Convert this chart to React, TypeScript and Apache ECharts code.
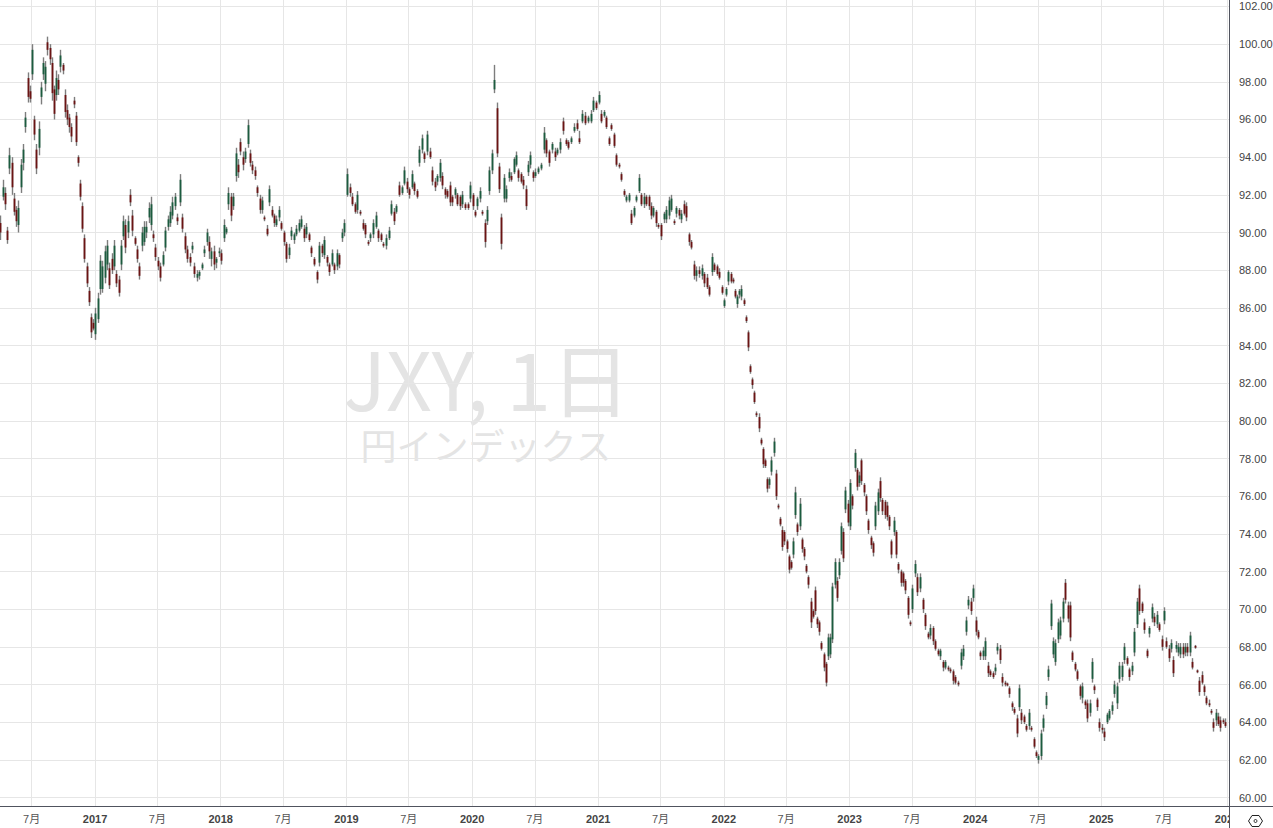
import React, { useEffect, useRef } from "react";
import * as echarts from "echarts";

// Rows are [open, close, low, high], one row per sampled bar, grouped by half-year.
const s2016a = [[90.5,90,89.6,90.9],[91.9,92.4,91.7,92.8],[92.1,91.5,91.2,92.4],[90.1,89.6,89.4,90.3],[93.4,94.1,93.1,94.5],[93.7,92.4,92,94],[91.8,91.1,90.9,92.1],[91.2,90.6,90.3,91.4],[90.4,91.3,90,91.7],[92.4,93.6,92.1,93.9],[93.7,94.4,93.3,94.7],[95.6,96.1,95.3,96.4],[98.2,97.2,96.9,98.5],[97.5,97.1,96.9,97.8]];
const s2016b = [[98.4,99.7,98.1,100],[96,95.2,94.9,96.2],[94.4,93.4,93.1,94.7],[94.5,95.5,94.1,95.9],[97.2,97.7,96.8,98],[98.4,99,98.1,99.3],[97.9,98.8,97.5,99.1],[100.1,99.7,99.4,100.4],[99.8,99.2,98.9,100],[99,97.4,97,99.3],[97.6,96.3,96,97.8],[97.3,98.2,97,98.6],[98.1,97.6,97.3,98.4],[98.8,99.4,98.5,99.7],[98.9,98.6,98.4,99],[97.3,96.4,96.1,97.6],[96.5,96,95.7,96.8],[96.1,95.6,95.3,96.3],[95.6,95.1,94.8,95.8],[97,96.8,96.6,97.2],[96.2,94.8,94.6,96.4],[94,93.7,93.5,94.1],[92.6,91.9,91.7,92.8],[91.4,90.2,90,91.6],[89.7,88.6,88.4,89.9],[88.2,87.3,87.1,88.4],[86.9,86.3,86.1,87.1],[85.5,84.7,84.4,85.7],[85.2,84.9,84.8,85.4]];
const s2017a = [[84.6,85.7,84.3,86],[85.4,86.5,85.2,86.8],[87,88.5,86.7,88.8],[87,88.2,86.8,88.5],[87.6,89,87.3,89.3],[88.3,89.3,88,89.6],[88.1,87.2,87,88.4],[88.6,88,87.8,88.9],[88.2,89.3,88,89.6],[87.8,87.3,87.1,88],[87.5,86.8,86.6,87.7],[88.3,89.3,88,89.6],[89.8,90.6,89.6,90.9],[90.4,89.2,88.9,90.7],[90,90.6,89.7,90.9],[92,91.6,91.4,92.3],[90.9,90.1,89.8,91.2],[89.7,89.4,89.3,89.8],[89.1,88.6,88.4,89.3],[88.2,87.7,87.5,88.4],[89.3,90,89,90.3],[89.5,90.3,89.3,90.6],[90,90.3,89.7,90.6],[90.8,91.3,90.5,91.6],[90.4,91.5,90.1,91.9],[89.9,89.7,89.5,90.1],[89.2,88.7,88.5,89.4]];
const s2017b = [[88.5,88.2,88,88.7],[88.2,87.6,87.4,88.4],[88.3,88.8,88.2,89],[89.2,90.1,89,90.3],[90.3,90.7,90.1,90.9],[90.5,91.1,90.3,91.4],[90.9,91.6,90.7,91.9],[91.4,91.9,91.2,92.1],[90.8,90.6,90.4,91],[91.6,92.8,91.4,93.1],[90.8,90.2,90,91],[89.8,89.1,88.9,90],[89.1,88.6,88.4,89.3],[88.7,88.4,88.2,88.9],[89.1,89.3,88.9,89.5],[88.2,87.8,87.6,88.4],[87.6,87.8,87.4,88],[87.7,87.9,87.5,88],[88.1,88.3,88,88.4],[88.9,89.1,88.7,89.3],[89.5,90,89.3,90.2],[89.5,89,88.6,89.8],[88.6,89,88.2,89.2],[89,88.3,88,89.3],[88.4,88.6,88.1,88.7],[88.9,89,88.7,89.2]];
const s2018a = [[88.9,88.5,88.3,89.1],[89.7,90.4,89.5,90.7],[90,90.2,89.9,90.3],[91.5,92.1,91.2,92.4],[91.9,90.9,90.6,92.1],[91.4,91.9,91.2,92.1],[93,94.2,92.7,94.5],[93.6,93.2,92.9,93.9],[94.8,94.3,94.1,95],[94,93.6,93.3,94.3],[93.9,94.3,93.7,94.5],[94.7,95.7,94.5,96],[94.2,93.7,93.5,94.4],[93.6,93.3,93.1,93.8],[93.3,93,92.8,93.5],[92.4,92.1,91.9,92.5],[91.8,91.2,91,92],[91.2,91.7,91,91.9],[90.8,90.7,90.6,90.9],[90.2,89.9,89.8,90.4],[91.6,92.3,91.4,92.5],[91.2,90.9,90.8,91.4],[90.9,90.5,90.3,91],[90.4,90.7,90.3,90.9],[90.8,91.2,90.6,91.4],[90.5,90.2,90.1,90.6]];
const s2018b = [[90,89.5,89.3,90.1],[89.4,88.6,88.4,89.5],[88.8,89.2,88.6,89.4],[89.8,90.1,89.6,90.3],[89.6,89.9,89.4,90],[89.9,90.2,89.8,90.4],[90.1,90.5,90,90.7],[90.3,90.7,90.2,90.9],[90.2,89.7,89.5,90.4],[89.9,90.3,89.7,90.5],[89.9,89.6,89.5,90],[89.2,88.9,88.7,89.3],[88.6,88.3,88.2,88.7],[87.9,87.5,87.3,88],[88.4,89.3,88.2,89.5],[89.3,88.9,88.7,89.4],[88.8,89.6,88.6,89.8],[88.7,88.4,88.2,88.8],[88.3,87.9,87.7,88.4],[88.3,88.9,88.2,89.1],[88.3,88,87.8,88.4],[88.2,88.9,88,89.1],[88.8,88.3,88.1,88.9],[89.7,90,89.5,90.2],[90,90.5,89.8,90.7]];
const s2019a = [[92,93.1,91.9,93.4],[92.4,92.1,91.9,92.6],[91.9,91.5,91.4,92.1],[91.5,91.1,91,91.6],[91.2,92,91,92.2],[91.1,91,90.9,91.2],[90.5,90.2,90.1,90.7],[90.4,89.9,89.7,90.5],[89.5,89.4,89.3,89.6],[89.7,89.9,89.5,90],[89.9,90.5,89.7,90.7],[90.3,90.9,90.2,91.1],[90.1,89.7,89.5,90.2],[89.9,89.6,89.5,90],[89.4,89.3,89.2,89.5],[89.3,89.7,89.1,89.9],[89.7,90.1,89.6,90.3],[91,91.5,90.9,91.7],[91.1,90.6,90.4,91.3],[91.1,91.4,91,91.5],[92.5,92,91.9,92.7],[92.1,92.4,92,92.5],[92.6,93.3,92.5,93.5],[92.7,92.3,92.1,92.9]];
const s2019b = [[92.3,92,91.8,92.4],[92.4,93.1,92.3,93.3],[92.6,92.2,92,92.7],[92.2,91.9,91.8,92.3],[93.7,94.4,93.5,94.6],[94.4,95,94.2,95.2],[94.2,93.9,93.7,94.3],[94.3,95.2,94.1,95.4],[94.3,94,93.9,94.5],[93.3,92.7,92.5,93.5],[92.7,92.4,92.2,92.9],[92.7,93,92.5,93.1],[92.9,93.7,92.7,93.9],[93,92.5,92.3,93.2],[92.3,92,91.8,92.4],[92.2,91.9,91.8,92.3],[92.5,91.6,91.4,92.7],[91.9,91.6,91.4,92],[92,92.3,91.8,92.4],[92,91.5,91.4,92.1],[91.9,91.4,91.2,92],[91.5,92,91.3,92.2],[91.5,91.3,91.2,91.6],[91.5,91.3,91.2,91.6],[91.8,92.5,91.6,92.7]];
const s2020a = [[92,91.4,91.2,92.1],[91.1,90.9,90.8,91.2],[91.4,91.8,91.2,91.9],[91.8,92.2,91.6,92.4],[91.1,91,90.9,91.2],[90.5,89.5,89.2,90.7],[90.6,91.2,90.4,91.4],[92.2,93.3,92,93.5],[93.3,94.2,93.1,94.4],[97.6,98.1,97.4,98.9],[96.6,94.2,94,96.9],[93.5,92.3,92.1,93.7],[90.8,89.4,89.1,91],[91.8,92.9,91.6,93.1],[91.8,92.3,91.6,92.5],[92.9,93.2,92.7,93.4],[93,92.8,92.7,93.2],[93.2,93.9,93.1,94],[93.6,94.1,93.5,94.3],[93.3,92.9,92.7,93.4],[93.1,92.7,92.6,93.2],[92.8,92.5,92.3,93],[92.3,91.4,91.2,92.5],[93.2,93.6,93,93.8],[93.6,94.1,93.4,94.3],[93.2,92.9,92.7,93.3]];
const s2020b = [[93,93.2,92.9,93.4],[93.2,93.4,93.1,93.5],[93.4,93.6,93.3,93.7],[94.4,95.3,94.2,95.6],[94.9,94.2,94,95],[94.3,93.7,93.5,94.4],[94.4,94.7,94.2,94.8],[94.3,94,93.8,94.5],[94.2,94.4,94.1,94.5],[94.4,94.8,94.2,95],[95.9,95.4,95.2,96.1],[94.9,94.7,94.6,95],[94.8,94.5,94.4,94.9],[94.8,95,94.7,95.1],[95.4,95.6,95.3,95.8],[95.8,95.5,95.4,96],[95,94.8,94.7,95.4],[95.9,96.3,95.8,96.5],[96.2,95.8,95.7,96.4],[95.9,96.1,95.8,96.2],[95.9,96.3,95.8,96.5],[96.5,97,96.4,97.2],[96.9,96.6,96.5,97]];
const s2021a = [[96.9,97.3,96.8,97.5],[96.3,95.9,95.8,96.5],[96.2,96.4,96.1,96.5],[96.1,95.6,95.5,96.2],[95,94.7,94.6,95.1],[95.7,95.5,95.4,95.8],[95.2,94.6,94.5,95.3],[94.1,93.6,93.5,94.2],[93.6,93.5,93.4,93.7],[93.1,92.8,92.7,93.2],[92.2,92,91.9,92.3],[91.7,91.9,91.6,92],[91.7,92,91.6,92.1],[91,90.5,90.4,91.2],[90.9,91.3,90.8,91.4],[91.7,91.9,91.6,92],[92.2,92.9,92.1,93.1],[92,91.5,91.4,92.1],[91.5,91.9,91.3,92.1],[91.9,91.5,91.4,92],[91.9,91.4,91.2,92],[91.4,90.9,90.7,91.6],[90.9,91.3,90.8,91.4],[91.1,90.5,90.3,91.2],[90.4,90.3,90.2,90.5]];
const s2021b = [[90.4,89.8,89.6,90.5],[90.7,91,90.5,91.1],[90.7,91.2,90.5,91.4],[90.9,91.7,90.7,91.9],[91.2,91.8,91.1,92],[90.6,90.5,90.4,90.7],[91,91.3,90.8,91.4],[91.2,90.9,90.7,91.3],[90.7,91,90.5,91.2],[91.5,91,90.9,91.7],[91.4,90.8,90.6,91.6],[89.9,89.5,89.3,90],[89.5,89.2,89.1,89.6],[88.3,87.7,87.5,88.5],[87.7,88,87.4,88.2],[88,87.8,87.6,88.2],[87.7,88.1,87.5,88.3],[87.8,87.3,87.1,87.9],[87.6,87.1,87,87.8],[87.1,86.7,86.6,87.2],[87.9,88.7,87.7,88.9],[88.3,88,87.9,88.4],[88.2,87.8,87.7,88.3],[87.9,87.6,87.5,88.1],[87.1,86.8,86.7,87.2]];
const s2022a = [[86.1,86.4,86,86.5],[86.7,87,86.6,87.1],[87.4,87.9,87.2,88],[87.8,87.4,87.3,87.9],[87.5,87.4,87.3,87.6],[86.9,86.6,86.5,87],[86.2,86.6,86,86.7],[86.7,86.9,86.5,87],[86.6,87,86.4,87.2],[86.4,86.2,86.1,86.5],[85.5,85.3,85.2,85.6],[84.7,83.9,83.7,84.8],[82.9,82.6,82.5,83],[82.2,81.9,81.7,82.3],[81.5,81,80.9,81.6],[80.4,80.3,80.2,80.5],[80.2,79.6,79.4,80.4],[79,78.8,78.7,79.1],[78.5,77.7,77.5,78.6],[77.9,77.6,77.5,78],[76.9,76.4,76.2,77],[76.6,76.9,76.4,77],[77.3,77.9,77.1,78.1],[78.3,78.9,78.1,79.1],[77.2,76,75.8,77.4],[75.5,75.4,75.3,75.6],[74.8,74.5,74.4,74.9],[74.2,73.3,73.1,74.4],[74.1,73.6,73.4,74.2]];
const s2022b = [[73.6,73.2,73,73.7],[72.8,72.1,71.9,72.9],[72.5,72.2,72.1,72.6],[72.9,73.6,72.7,73.8],[75,76.2,74.8,76.5],[74.5,74.1,73.9,74.6],[74.4,75.6,74.2,75.9],[73.7,73.2,73,73.8],[73.2,72.8,72.6,73.3],[72.3,72,71.9,72.4],[71.7,71.3,71.1,71.8],[70.4,69.3,69,70.6],[69.9,69.6,69.5,70],[71,69.9,69.7,71.2],[69.5,69.2,69,69.6],[69.3,68.8,68.6,69.4],[68.2,67.9,67.8,68.3],[67.6,66.9,66.7,67.7],[67.1,66.1,65.9,67.2],[67.5,68.5,67.3,68.7],[67.6,68.5,67.4,68.7],[68.4,71.2,68.2,71.4],[71.3,72.5,71.1,72.7],[71.5,70.6,70.4,71.7],[71.8,72.5,71.6,72.7],[73.1,74.4,72.9,74.6],[74.1,72.7,72.5,74.3],[75.3,76.3,75.1,76.5],[75.6,74.6,74.4,75.8]];
const s2023a = [[74.4,76.7,74.2,76.9],[76,75.5,75.3,76.1],[77.5,78.3,77.3,78.5],[77.4,76.5,76.3,77.5],[76.7,77.1,76.5,77.3],[77.9,76.8,76.6,78],[76.6,76.2,76,76.7],[76,75.2,75,76.1],[74.7,74.2,74,74.8],[73.8,73.4,73.2,73.9],[73.5,73,72.8,73.6],[74.4,75.5,74.2,75.7],[75.2,76.2,75,76.4],[76.8,75.9,75.7,77],[75.8,75.2,75,75.9],[75.7,75,74.8,75.8],[75.5,74.9,74.7,75.7],[74.9,74.4,74.2,75],[73.6,72.9,72.7,73.7],[74.1,74.7,73.9,74.9],[74.1,72.9,72.7,74.2],[72.4,72.1,71.9,72.5],[72,71.4,71.2,72.1],[71.9,71.4,71.2,72],[71.5,71,70.8,71.6],[70.6,69.7,69.5,70.7],[69.3,69.2,69.1,69.4]];
const s2023b = [[70,71.1,69.8,71.3],[71.9,72.4,71.7,72.6],[71.7,70.9,70.7,71.9],[71.1,71.7,70.9,71.9],[70.5,70,69.8,70.6],[69.7,69.1,68.9,69.8],[68.7,68.5,68.4,68.8],[68.6,69,68.4,69.2],[69,68.3,68.1,69.1],[68.3,67.9,67.8,68.4],[67.8,67.6,67.5,67.9],[67.5,67.8,67.3,67.9],[67.2,66.9,66.7,67.3],[66.9,67.2,66.8,67.3],[66.9,66.8,66.7,67],[66.8,66.7,66.6,66.9],[66.7,66.2,66,66.8],[66.4,66.1,66,66.5],[66.1,66,65.9,66.2],[67,67.7,66.8,67.9],[67.5,67.9,67.3,68.1],[68.8,69.4,68.6,69.6],[70.2,70.5,70,70.7],[70.4,69.9,69.7,70.6],[70.6,71.1,70.4,71.3]];
const s2024a = [[69.4,68.8,68.6,69.6],[68.8,68.5,68.4,68.9],[67.7,67.5,67.3,67.8],[67.5,67.8,67.3,68],[67.5,68.3,67.3,68.5],[67,66.6,66.4,67.2],[66.7,66.5,66.4,66.8],[66.6,66.4,66.3,66.7],[66.7,66.9,66.5,67.1],[67.8,68,67.6,68.2],[67.9,67.3,67.1,68.1],[66.4,66.1,65.9,66.6],[66.1,66,65.9,66.2],[66.05,65.95,65.9,66.1],[65.8,65.5,65.3,65.9],[65,64.8,64.6,65.1],[64.7,64.5,64.4,64.8],[64.2,63.4,63.2,64.4],[64.8,65.8,64.6,66],[64.5,64.1,63.9,64.7],[64.3,64,63.9,64.4],[63.8,63.6,63.5,63.9],[63.8,64.5,63.6,64.7],[63.7,63.6,63.5,63.8],[63.1,62.7,62.6,63.2],[62.4,62.2,62.1,62.5]];
const s2024b = [[62,62.2,61.8,62.3],[62.2,63.4,62,63.6],[63.7,64.2,63.5,64.4],[64.9,65.4,64.7,65.6],[66.4,66.8,66.2,67],[69.1,70.3,68.9,70.5],[67.6,68.3,67.4,68.5],[67.2,68.2,67,68.4],[68.4,69.3,68.2,69.5],[68.6,69.4,68.4,69.6],[69.5,70.4,69.3,70.6],[71.4,70.5,70.3,71.6],[70.2,69.5,69.3,70.4],[70.2,68.5,68.3,70.4],[67.7,67.3,67.2,67.8],[67.1,66.8,66.7,67.2],[66.7,66.3,66.2,66.8],[65.9,65.4,65.2,66],[65.3,65.9,65,66.1],[65.1,64.9,64.7,65.2],[65,64.2,64,65.2],[64.5,65,64.3,65.2],[66.3,67.2,66.1,67.4],[65.9,65.7,65.5,66],[65.2,64.8,64.6,65.3],[64,63.7,63.5,64.2]];
const s2025a = [[63.7,63.6,63.4,63.9],[63.5,63.2,63,63.7],[64,64.4,63.9,64.5],[64.2,64.6,64.1,64.7],[64.6,64.9,64.4,65.1],[65.5,66,65.3,66.2],[65,65.9,64.7,66.1],[66.3,67,66.1,67.2],[66.4,67,66.2,67.2],[67.3,68,67.1,68.2],[67.4,67.1,67,67.5],[66.8,66.4,66.2,66.9],[66.7,67,66.5,67.2],[67.7,68.8,67.5,69],[69.2,70.4,69,70.6],[71.1,69.9,69.7,71.3],[70.3,69.9,69.8,70.4],[69.3,68.9,68.7,69.5],[67.8,67.5,67.4,67.9],[68.7,69,68.5,69.1],[69.5,70.1,69.3,70.3],[69.6,69.3,69.1,69.8],[69.2,69.7,69,69.9],[69.2,68.9,68.8,69.3],[68.4,68,67.8,68.6]];
const s2025b = [[69.4,69.9,69.2,70.1],[68.3,68,67.9,68.5],[67.9,67.4,67.2,68.1],[67.9,68.2,67.7,68.4],[67.3,66.6,66.4,67.5],[67.9,68.1,67.7,68.3],[67.7,68,67.5,68.2],[67.6,68,67.4,68.2],[68,67.6,67.4,68.2],[67.7,68,67.5,68.2],[68,67.7,67.5,68.2],[67.7,68.6,67.5,68.8],[67.2,66.9,66.8,67.4],[68.05,67.95,67.9,68.1],[66.75,66.65,66.6,66.8],[66.2,65.6,65.4,66.4],[66.5,66.1,66,66.7],[65.9,65.6,65.4,66],[65.3,65,64.9,65.4],[65,64.9,64.8,65.2],[64.6,64.5,64.4,64.7],[64,63.7,63.5,64.2],[64.1,64.5,63.8,64.7],[64.3,63.9,63.8,64.5],[64.1,63.7,63.5,64.3],[64.1,64,63.9,64.2],[64,63.8,63.7,64.2]];

const periods: [string, string, number[][]][] = [
  ["2016-03-31", "2016-07-01", s2016a], ["2016-07-01", "2017-01-01", s2016b],
  ["2017-01-01", "2017-07-01", s2017a], ["2017-07-01", "2018-01-01", s2017b],
  ["2018-01-01", "2018-07-01", s2018a], ["2018-07-01", "2019-01-01", s2018b],
  ["2019-01-01", "2019-07-01", s2019a], ["2019-07-01", "2020-01-01", s2019b],
  ["2020-01-01", "2020-07-01", s2020a], ["2020-07-01", "2021-01-01", s2020b],
  ["2021-01-01", "2021-07-01", s2021a], ["2021-07-01", "2022-01-01", s2021b],
  ["2022-01-01", "2022-07-01", s2022a], ["2022-07-01", "2023-01-01", s2022b],
  ["2023-01-01", "2023-07-01", s2023a], ["2023-07-01", "2024-01-01", s2023b],
  ["2024-01-01", "2024-07-01", s2024a], ["2024-07-01", "2025-01-01", s2024b],
  ["2025-01-01", "2025-07-01", s2025a], ["2025-07-01", "2026-01-01", s2025b],
];

const tickDates = ["2016-07-01", "2017-01-01", "2017-07-01", "2018-01-01", "2018-07-01", "2019-01-01", "2019-07-01", "2020-01-01", "2020-07-01", "2021-01-01", "2021-07-01", "2022-01-01", "2022-07-01", "2023-01-01", "2023-07-01", "2024-01-01", "2024-07-01", "2025-01-01", "2025-07-01", "2026-01-01"];
const priceTicks = [60, 62, 64, 66, 68, 70, 72, 74, 76, 78, 80, 82, 84, 86, 88, 90, 92, 94, 96, 98, 100, 102];
const watermarkTitle = "JXY, 1日";
const watermarkSubtitle = "円インデックス";

const utc = (d: string) => Date.parse(d + "T00:00:00Z");

const bars = periods.flatMap(([from, to, rows]) => {
  const a = utc(from);
  const b = utc(to);
  return rows.map((r, i) => ({ t: a + ((i + 0.5) / rows.length) * (b - a), o: r[0], c: r[1], l: r[2], h: r[3] }));
});

const AXIS = "#50535e";
const GRID = "#e6e6e6";
const WATER = "#e4e4e4";

export default function App() {
  const ref = useRef<HTMLDivElement>(null);
  useEffect(() => {
    const chart = echarts.init(ref.current!, undefined, { renderer: "svg" });
    chart.setOption({
      animation: false,
      backgroundColor: "#ffffff",
      grid: { left: 0, right: 44, top: 0, bottom: 22, containLabel: false, outerBoundsMode: "none" },
      xAxis: {
        type: "value",
        min: utc("2016-03-31"),
        max: utc("2026-01-07"),
        axisLine: { show: true, lineStyle: { color: AXIS, width: 1 } },
        axisTick: { show: false, customValues: tickDates.map(utc) },
        splitLine: { show: true, lineStyle: { color: GRID, width: 1 } },
        axisLabel: {
          customValues: tickDates.map(utc),
          margin: 7,
          hideOverlap: false,
          formatter: (v: number) => {
            const d = new Date(v);
            return d.getUTCMonth() === 0 ? `{y|${d.getUTCFullYear()}}` : `{m|${d.getUTCMonth() + 1}月}`;
          },
          rich: {
            y: { fontFamily: "Liberation Sans", fontSize: 11, fontWeight: "bold", color: "#444" },
            m: { fontFamily: "Liberation Sans, Noto Sans CJK JP", fontSize: 11, color: "#555" },
          },
        },
      },
      yAxis: {
        type: "value",
        position: "right",
        min: 59.549,
        max: 102.345,
        axisLine: { show: true, lineStyle: { color: AXIS, width: 1 } },
        axisTick: { show: false, customValues: priceTicks },
        splitLine: { show: true, lineStyle: { color: GRID, width: 1 } },
        axisLabel: {
          customValues: priceTicks,
          margin: 10,
          color: "#444",
          fontFamily: "Liberation Sans",
          fontSize: 11,
          formatter: (v: number) => v.toFixed(2),
        },
      },
      series: [
        {
          name: "wick",
          type: "candlestick",
          barWidth: 0.5,
          z: 3,
          itemStyle: { color: "#7d7d7d", color0: "#7d7d7d", borderColor: "#7d7d7d", borderColor0: "#7d7d7d", borderWidth: 1.4 },
          data: bars.map((b) => [b.t, b.o, b.o, b.l, b.h]),
        },
        {
          name: "JXY",
          type: "candlestick",
          barWidth: 0.5,
          z: 4,
          itemStyle: { color: "#1c5c3f", color0: "#6b1414", borderColor: "#1c5c3f", borderColor0: "#6b1414", borderWidth: 1.8 },
          data: bars.map((b) => [b.t, b.o, b.c, Math.min(b.o, b.c), Math.max(b.o, b.c)]),
        },
      ],
      graphic: [
        { type: "text", z: -1, x: 487, y: 376, style: { text: watermarkTitle, fontSize: 80, fontFamily: "Noto Sans CJK JP", fill: WATER, textAlign: "center", textVerticalAlign: "middle" } },
        { type: "text", z: -1, x: 486, y: 444, style: { text: watermarkSubtitle, fontSize: 36, fontFamily: "Noto Sans CJK JP", fill: WATER, textAlign: "center", textVerticalAlign: "middle" } },
        { type: "rect", z: 10, shape: { x: 1230, y: 807, width: 43, height: 21 }, style: { fill: "#ffffff" } },
        { type: "line", z: 11, shape: { x1: 1229.5, y1: 806, x2: 1229.5, y2: 828 }, style: { stroke: AXIS, lineWidth: 1 } },
        { type: "line", z: 11, shape: { x1: 1229, y1: 806.5, x2: 1273, y2: 806.5 }, style: { stroke: AXIS, lineWidth: 1 } },
        { type: "polygon", z: 11, shape: { points: [[1248.5, 821], [1252, 815.5], [1259, 815.5], [1262.5, 821], [1259, 826.5], [1252, 826.5]] }, style: { fill: "none", stroke: "#222", lineWidth: 1 } },
        { type: "circle", z: 11, shape: { cx: 1255.5, cy: 821, r: 1.5 }, style: { fill: "none", stroke: "#222", lineWidth: 1 } },
      ],
    });
    return () => chart.dispose();
  }, []);
  return <div ref={ref} style={{ position: "absolute", left: 0, top: 0, width: 1273, height: 828 }} />;
}
